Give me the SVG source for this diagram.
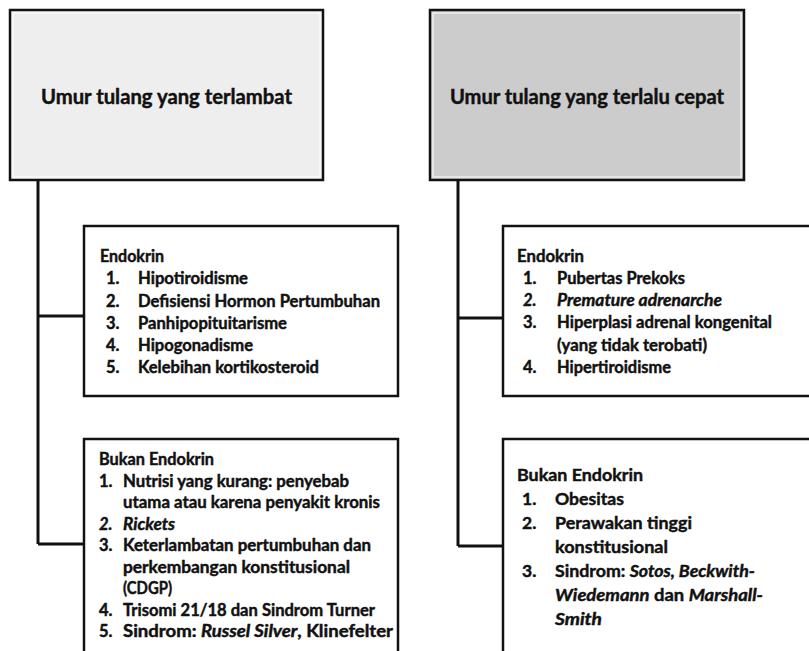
<svg xmlns="http://www.w3.org/2000/svg" width="809" height="651" viewBox="0 0 809 651">
<style>
text{font-family:Lato,"Open Sans","Liberation Sans",sans-serif;font-weight:700;fill:#111;stroke:#111;stroke-width:0.45;}
.t{font-size:20px;}
.s{font-size:16.5px;}
.m{font-size:17.5px;}
.i{font-style:italic;}
.box{fill:#fff;stroke:#111;stroke-width:2.5;}
.head{stroke:#111;stroke-width:2.5;}
.inner{fill:none;stroke:#fff;stroke-width:1;}
.con{fill:none;stroke:#111;stroke-width:3;}
</style>
<rect width="809" height="651" fill="#fff"/>
<g id="connectors">
<path class="con" d="M38,180 V544 M38,316 H84 M38,544 H84"/>
<path class="con" d="M458,180 V546 M458,318 H503 M458,546 H503"/>
</g>
<g id="late">
<rect class="head" x="10" y="10" width="313" height="170" fill="#eeeeee"/>
<rect class="inner" x="13" y="13" width="307" height="164"/>
<text class="t" x="166.5" y="104" text-anchor="middle" textLength="251" lengthAdjust="spacingAndGlyphs">Umur tulang yang terlambat</text>
</g>
<g id="early">
<rect class="head" x="430" y="10" width="314" height="170" fill="#cccccc"/>
<rect class="inner" x="433" y="13" width="308" height="164"/>
<text class="t" x="587" y="104" text-anchor="middle" textLength="274" lengthAdjust="spacingAndGlyphs">Umur tulang yang terlalu cepat</text>
</g>
<g id="late-endo">
<rect class="box" x="84" y="226" width="314" height="170"/>
<text class="s" x="100" y="262" textLength="64" lengthAdjust="spacingAndGlyphs">Endokrin</text>
<text class="s" x="106" y="284">1.</text><text class="s" x="138" y="284" textLength="110" lengthAdjust="spacingAndGlyphs">Hipotiroidisme</text>
<text class="s" x="106" y="306.5">2.</text><text class="s" x="138" y="306.5" textLength="242" lengthAdjust="spacingAndGlyphs">Defisiensi Hormon Pertumbuhan</text>
<text class="s" x="106" y="329">3.</text><text class="s" x="138" y="329" textLength="149" lengthAdjust="spacingAndGlyphs">Panhipopituitarisme</text>
<text class="s" x="106" y="351">4.</text><text class="s" x="138" y="351" textLength="115" lengthAdjust="spacingAndGlyphs">Hipogonadisme</text>
<text class="s" x="106" y="373">5.</text><text class="s" x="138" y="373" textLength="181" lengthAdjust="spacingAndGlyphs">Kelebihan kortikosteroid</text>
</g>
<g id="late-nonendo">
<rect class="box" x="84" y="439" width="314" height="230"/>
<text class="s" x="99" y="465" textLength="115" lengthAdjust="spacingAndGlyphs">Bukan Endokrin</text>
<text class="s" x="99" y="486.5">1.</text><text class="s" x="123" y="486.5" textLength="226" lengthAdjust="spacingAndGlyphs">Nutrisi yang kurang: penyebab</text>
<text class="s" x="123" y="508" textLength="257" lengthAdjust="spacingAndGlyphs">utama atau karena penyakit kronis</text>
<text class="s i" x="99" y="529.5">2.</text><text class="s i" x="123" y="529.5" textLength="52" lengthAdjust="spacingAndGlyphs">Rickets</text>
<text class="s" x="99" y="551">3.</text><text class="s" x="123" y="551" textLength="248" lengthAdjust="spacingAndGlyphs">Keterlambatan pertumbuhan dan</text>
<text class="s" x="123" y="572.5" textLength="227" lengthAdjust="spacingAndGlyphs">perkembangan konstitusional</text>
<text class="s" x="123" y="594" textLength="49" lengthAdjust="spacingAndGlyphs">(CDGP)</text>
<text class="s" x="99" y="615.5">4.</text><text class="s" x="123" y="615.5" textLength="252" lengthAdjust="spacingAndGlyphs">Trisomi 21/18 dan Sindrom Turner</text>
<text class="s" x="99" y="637">5.</text><text class="s" x="123" y="637" textLength="270" lengthAdjust="spacingAndGlyphs">Sindrom: <tspan class="i">Russel Silver</tspan>, Klinefelter</text>
</g>
<g id="early-endo">
<rect class="box" x="503" y="226" width="320" height="170"/>
<text class="s" x="517" y="262" textLength="67" lengthAdjust="spacingAndGlyphs">Endokrin</text>
<text class="s" x="523" y="284">1.</text><text class="s" x="557" y="284" textLength="128" lengthAdjust="spacingAndGlyphs">Pubertas Prekoks</text>
<text class="s i" x="523" y="306">2.</text><text class="s i" x="557" y="306" textLength="165" lengthAdjust="spacingAndGlyphs">Premature adrenarche</text>
<text class="s" x="523" y="328">3.</text><text class="s" x="557" y="328" textLength="215" lengthAdjust="spacingAndGlyphs">Hiperplasi adrenal kongenital</text>
<text class="s" x="557" y="351" textLength="150" lengthAdjust="spacingAndGlyphs">(yang tidak terobati)</text>
<text class="s" x="523" y="373">4.</text><text class="s" x="557" y="373" textLength="114" lengthAdjust="spacingAndGlyphs">Hipertiroidisme</text>
</g>
<g id="early-nonendo">
<rect class="box" x="503" y="439" width="320" height="230"/>
<text class="m" x="517" y="481" textLength="126" lengthAdjust="spacingAndGlyphs">Bukan Endokrin</text>
<text class="m" x="522" y="505">1.</text><text class="m" x="555" y="505" textLength="69" lengthAdjust="spacingAndGlyphs">Obesitas</text>
<text class="m" x="522" y="529">2.</text><text class="m" x="555" y="529" textLength="137" lengthAdjust="spacingAndGlyphs">Perawakan tinggi</text>
<text class="m" x="555" y="553" textLength="113" lengthAdjust="spacingAndGlyphs">konstitusional</text>
<text class="m" x="522" y="577">3.</text><text class="m" x="555" y="577" textLength="200" lengthAdjust="spacingAndGlyphs">Sindrom: <tspan class="i">Sotos, Beckwith-</tspan></text>
<text class="m" x="555" y="601" textLength="208" lengthAdjust="spacingAndGlyphs"><tspan class="i">Wiedemann</tspan> dan <tspan class="i">Marshall-</tspan></text>
<text class="m i" x="555" y="625" textLength="47" lengthAdjust="spacingAndGlyphs">Smith</text>
</g>
</svg>
